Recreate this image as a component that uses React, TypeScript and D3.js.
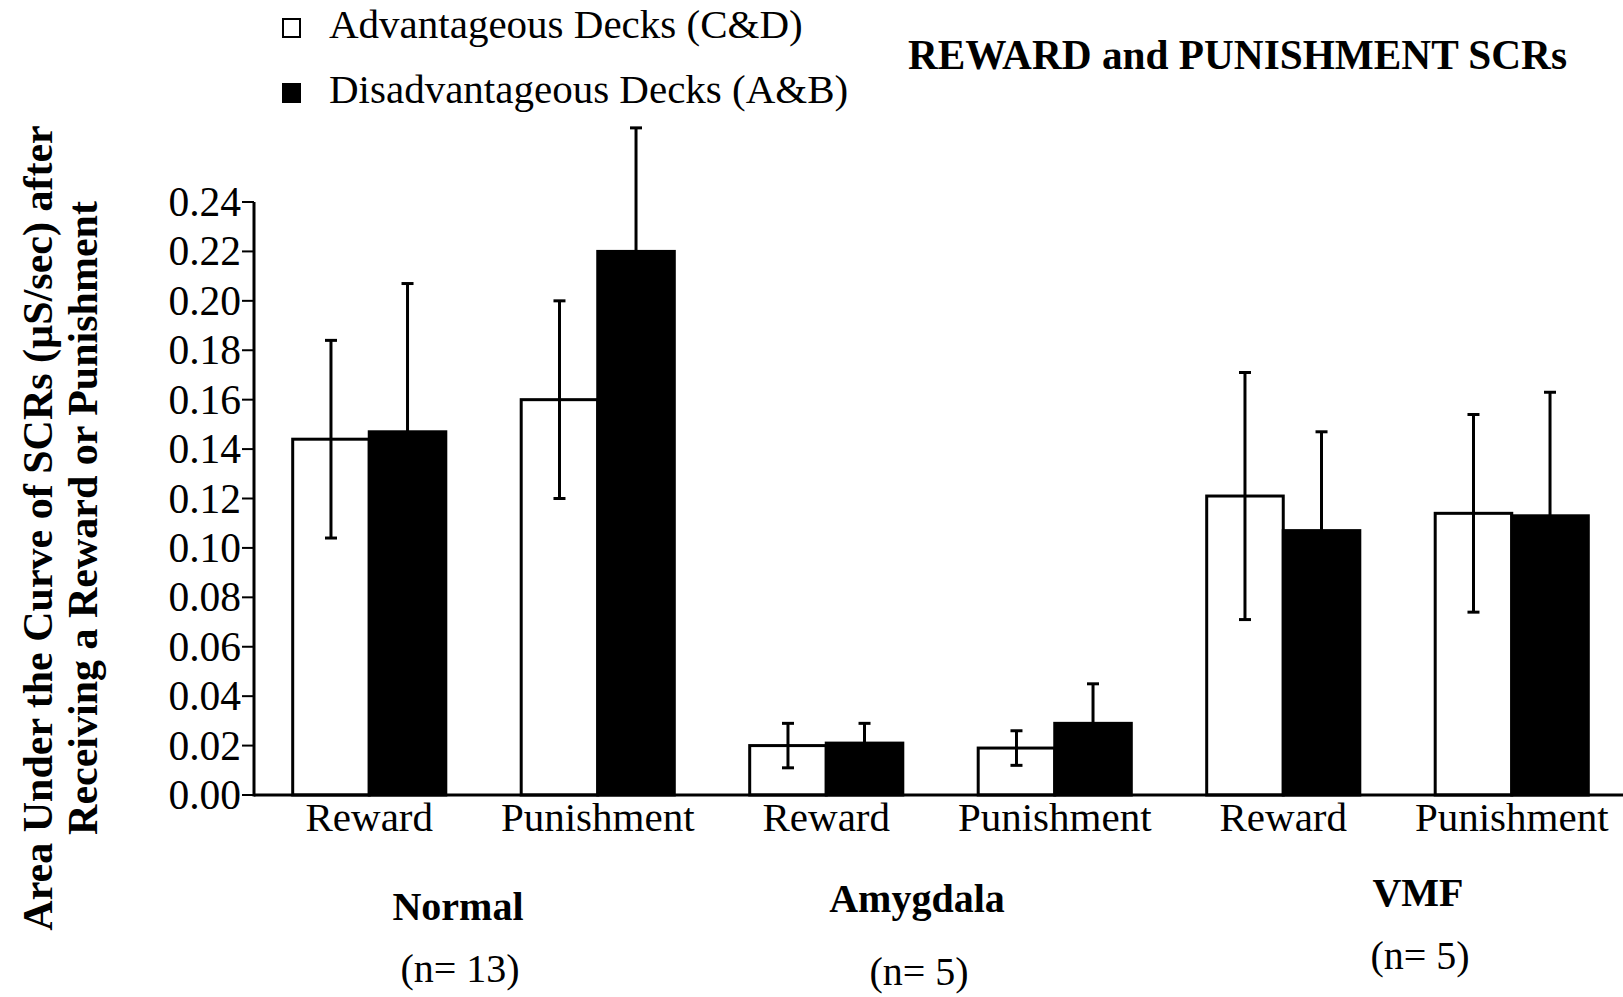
import * as d3 from "d3";

// bar labels along the x axis (two per subject group)
const categories = ["Reward", "Punishment", "Reward", "Punishment", "Reward", "Punishment"];
// advantageous decks (C&D): means and standard errors
const advMeans = [0.144, 0.160, 0.020, 0.019, 0.121, 0.114];
const advErr = [0.040, 0.040, 0.009, 0.007, 0.050, 0.040];
// disadvantageous decks (A&B)
const disMeans = [0.147, 0.220, 0.021, 0.029, 0.107, 0.113];
const disErr = [0.060, 0.050, 0.008, 0.016, 0.040, 0.050];

const groups = ["Normal", "Amygdala", "VMF"];
const groupSizes = ["(n= 13)", "(n= 5)", "(n= 5)"];
const yTicks = [0, 0.02, 0.04, 0.06, 0.08, 0.1, 0.12, 0.14, 0.16, 0.18, 0.2, 0.22, 0.24];
const seriesNames = ["Advantageous Decks (C&D)", "Disadvantageous Decks (A&B)"];

const W = 1623;
const H = 997;
const axisX = 254;
const font = "'Liberation Serif', 'Times New Roman', serif";

// group labels sit a little irregularly in the original
const groupLabelPos = [
  { x: 458, y: 920, ny: 982 },
  { x: 917, y: 912, ny: 985 },
  { x: 1418, y: 906, ny: 969 },
];

export default function App() {
  const y = d3.scaleLinear().domain([0, 0.24]).range([795, 202]);
  const x0 = d3
    .scaleBand<number>()
    .domain(d3.range(categories.length))
    .range([255, 1626])
    .paddingInner(0.33)
    .paddingOuter(0.165);
  const x1 = d3.scaleBand<string>().domain(["adv", "dis"]).range([0, x0.bandwidth()]);
  const fmt = d3.format(".2f");

  const series = [
    { key: "adv", means: advMeans, err: advErr, fill: "#fff" },
    { key: "dis", means: disMeans, err: disErr, fill: "#000" },
  ];

  return (
    <svg
      width={W}
      height={H}
      style={{ position: "absolute", left: 0, top: 0, background: "#fff" }}
      fontFamily={font}
    >
      {/* legend */}
      {seriesNames.map((name, i) => (
        <g key={name}>
          <rect
            x={283}
            y={19 + i * 65}
            width={17}
            height={18}
            fill={i === 0 ? "#fff" : "#000"}
            stroke="#000"
            strokeWidth={2}
          />
          <text x={329} y={38 + i * 65} fontSize={41}>
            {name}
          </text>
        </g>
      ))}

      <text x={908} y={69} fontSize={41.3} fontWeight="bold">
        REWARD and PUNISHMENT SCRs
      </text>

      {/* y axis title */}
      <g fontWeight="bold" fontSize={42} textAnchor="middle">
        <text transform="translate(52,528) rotate(-90)">
          Area Under the Curve of SCRs (µS/sec) after
        </text>
        <text transform="translate(97,518) rotate(-90)">
          Receiving a Reward or Punishment
        </text>
      </g>

      {/* bars */}
      {series.map((s) =>
        categories.map((_, i) => {
          const bx = (x0(i) ?? 0) + (x1(s.key) ?? 0);
          const bw = x1.bandwidth();
          return (
            <rect
              key={s.key + i}
              x={bx}
              y={y(s.means[i])}
              width={bw}
              height={y(0) - y(s.means[i])}
              fill={s.fill}
              stroke="#000"
              strokeWidth={3}
            />
          );
        })
      )}

      {/* error bars */}
      {series.map((s) =>
        categories.map((_, i) => {
          const cx = (x0(i) ?? 0) + (x1(s.key) ?? 0) + x1.bandwidth() / 2;
          const hi = y(s.means[i] + s.err[i]);
          const lo = y(s.means[i] - s.err[i]);
          return (
            <g key={"e" + s.key + i} stroke="#000" strokeWidth={3}>
              <line x1={cx} x2={cx} y1={hi} y2={lo} />
              <line x1={cx - 6} x2={cx + 6} y1={hi} y2={hi} />
              <line x1={cx - 6} x2={cx + 6} y1={lo} y2={lo} />
            </g>
          );
        })
      )}

      {/* axes */}
      <line x1={axisX} x2={axisX} y1={y(0) + 1.5} y2={y(0.24)} stroke="#000" strokeWidth={3} />
      <line x1={axisX} x2={W} y1={y(0)} y2={y(0)} stroke="#000" strokeWidth={3} />
      {yTicks.map((t) => (
        <g key={t}>
          <line x1={axisX - 12} x2={axisX} y1={y(t)} y2={y(t)} stroke="#000" strokeWidth={2} />
          <text x={axisX - 13} y={y(t) + 14} fontSize={41.5} textAnchor="end">
            {fmt(t)}
          </text>
        </g>
      ))}

      {categories.map((c, i) => (
        <text
          key={"c" + i}
          x={(x0(i) ?? 0) + x0.bandwidth() / 2}
          y={831}
          fontSize={41}
          textAnchor="middle"
        >
          {c}
        </text>
      ))}

      {groups.map((g, i) => (
        <g key={g} textAnchor="middle" fontSize={40}>
          <text x={groupLabelPos[i].x} y={groupLabelPos[i].y} fontWeight="bold">
            {g}
          </text>
          <text x={groupLabelPos[i].x + 2} y={groupLabelPos[i].ny}>
            {groupSizes[i]}
          </text>
        </g>
      ))}
    </svg>
  );
}
